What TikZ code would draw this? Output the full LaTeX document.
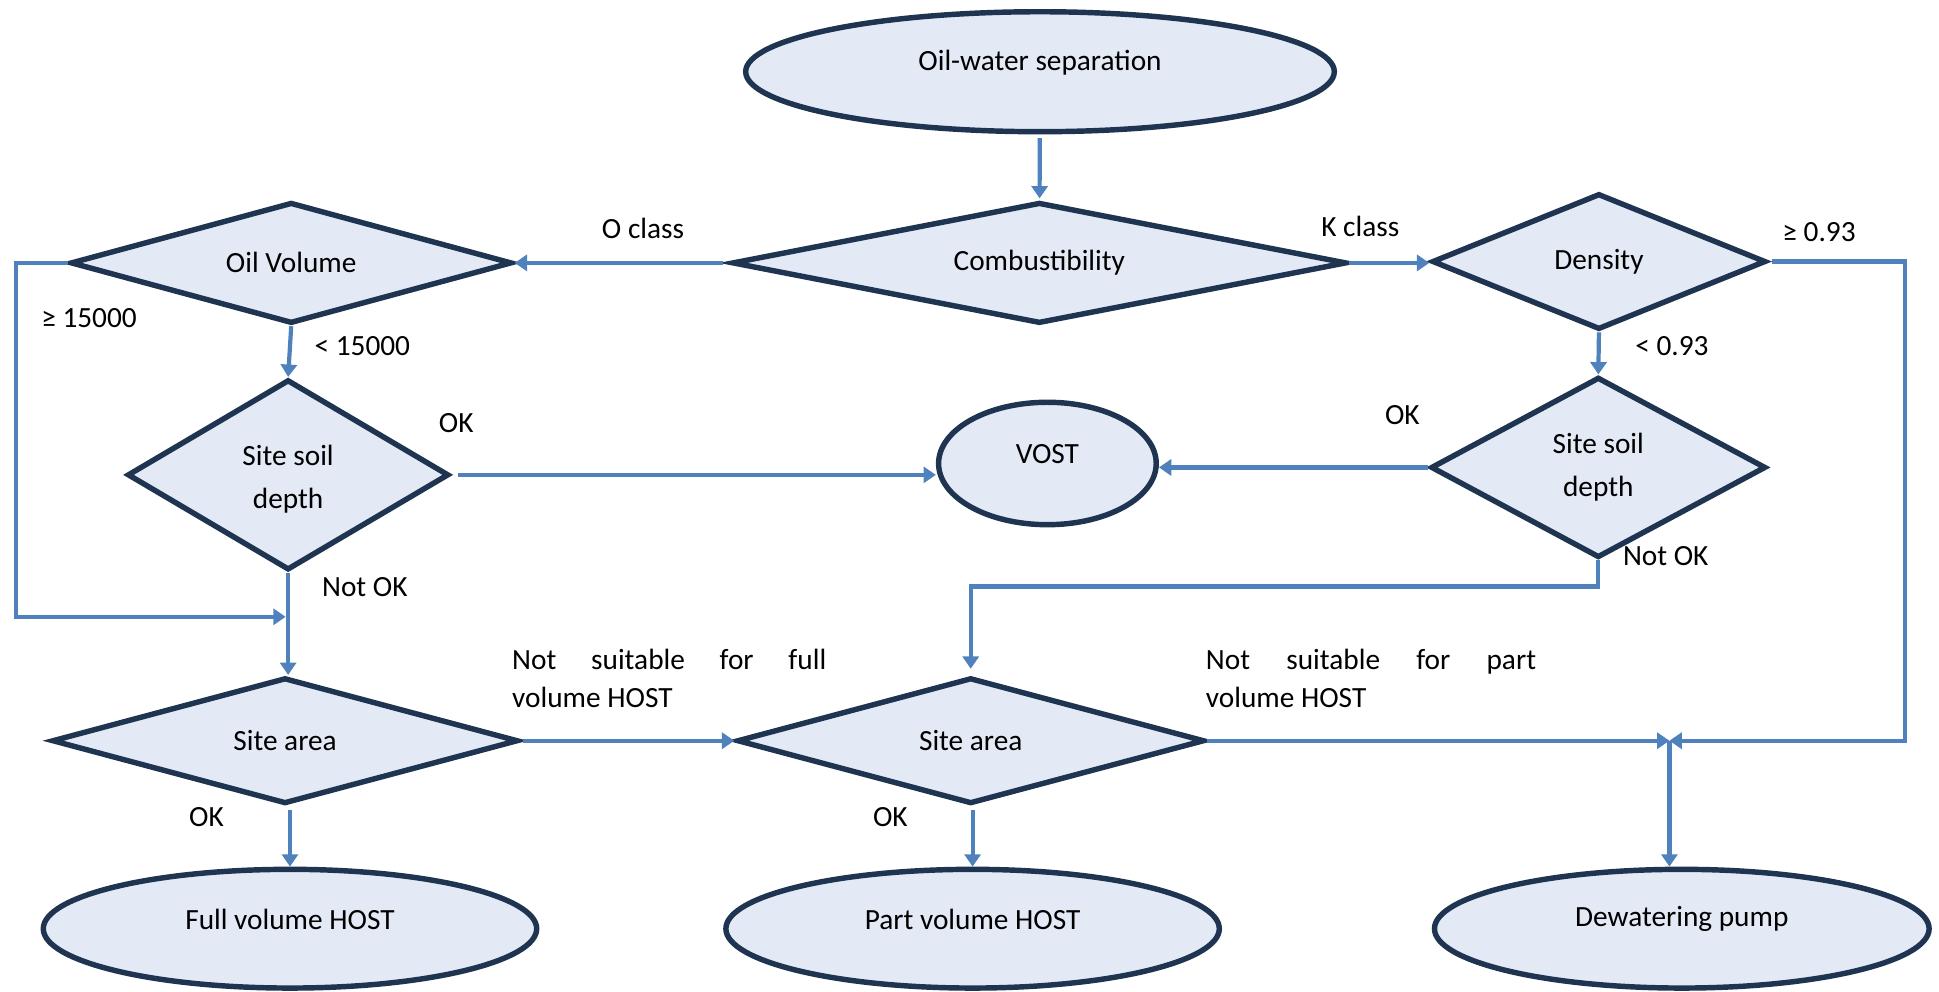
\documentclass[tikz,border=0pt]{standalone}
\usepackage{fontspec}
\setmainfont{Carlito}
\usetikzlibrary{shapes.geometric,arrows.meta}
\definecolor{fillc}{HTML}{E3EAF6}
\definecolor{edgec}{HTML}{1E3450}
\definecolor{linec}{HTML}{4F81BD}
\begin{document}
\begin{tikzpicture}[x=1pt,y=-1pt,
  every node/.style={font=\fontsize{23.7}{35}\selectfont},
  dec/.style={diamond, draw=edgec, fill=fillc, line width=4.4pt, inner sep=0pt, align=center},
  term/.style={ellipse, draw=edgec, fill=fillc, line width=4.4pt, inner sep=0pt},
  conn/.style={draw=linec, line width=3.4pt, -{Triangle[width=13pt,length=10pt]}},
  lbl/.style={inner sep=0pt, anchor=base},
  ttl/.style={inner sep=0pt, yshift=7.5pt}]
\useasboundingbox (0,0) rectangle (1568,802);

% nodes
\node[term, minimum width=476pt, minimum height=97pt,
      label={[ttl]center:Oil-water separation}] (ows) at (841,58) {};
\node[dec, shape aspect=5.07, minimum width=497pt, minimum height=98pt] (comb) at (840.5,212.6) {Combustibility};
\node[dec, shape aspect=3.64, minimum width=357pt, minimum height=98pt] (ov) at (235.5,212.6) {Oil Volume};
\node[dec, shape aspect=2.45, minimum width=270pt, minimum height=110pt] (den) at (1293,211.5) {Density};
\node[dec, shape aspect=1.69, minimum width=260pt, minimum height=154pt] (ssl) at (233,384) {\rule{0pt}{23pt}Site soil\\depth};
\node[term, minimum width=176pt, minimum height=99pt,
      label={[ttl]center:VOST}] (vost) at (847,374.8) {};
\node[dec, shape aspect=1.86, minimum width=271pt, minimum height=146pt] (ssr) at (1292.5,378) {Site soil\\depth};
\node[dec, shape aspect=3.7, minimum width=377pt, minimum height=102pt] (sal) at (230.5,599) {Site area};
\node[dec, shape aspect=3.7, minimum width=378pt, minimum height=102pt] (sam) at (785,599) {Site area};
\node[term, minimum width=399pt, minimum height=96pt,
      label={[ttl]center:Full volume HOST}] (fv) at (234.5,751) {};
\node[term, minimum width=399pt, minimum height=96pt,
      label={[ttl]center:Part volume HOST}] (pv) at (786.5,751) {};
\node[term, minimum width=400pt, minimum height=96pt,
      label={[ttl]center:Dewatering pump}] (dp) at (1360,751) {};

\coordinate (j1) at (231,498.8);
\coordinate (j2) at (1350,599);

% connectors
\draw[conn, shorten >=1pt, shorten <=3pt] (ows) -- (comb);
\draw[conn, shorten <=5pt] (comb.west) -- (ov.east);
\draw[conn] (comb.east) -- (comb.east -| den.west);
\draw[conn] (ov.south) -- (ssl.north);
\draw[conn] (ov.west) -- ++(-42,0) |- (j1);
\draw[conn] (ssl.south) -- (ssl.south |- sal.north);
\draw[conn, shorten <=5pt] (ssl.east) -- (ssl.east -| vost.west);
\draw[conn] (ssr.west) -- (ssr.west -| vost.east);
\draw[conn] (den.south) -- (ssr.north);
\draw[conn, shorten >=5pt] (ssr.south) -- ++(0,21) -| (sam.north);
\draw[conn, shorten <=2pt] (sal.east) -- (sam.west);
\draw[conn] (sam.east) -- (j2);
\draw[conn, shorten <=3pt] (den.east) -- ++(110,0) |- (j2);
\draw[conn] (j2) -- (j2 |- dp.north);
\draw[conn, shorten <=3pt] (fv.north |- sal.south) -- (fv.north);
\draw[conn, shorten <=3pt] (pv.north |- sam.south) -- (pv.north);

% labels
\node[lbl] (lo) at (520,192.5) {O class};
\node[lbl] (lk) at (1100,191.5) {K class};
\node[lbl] (lge) at (1471,195.5) {≥ 0.93};
\node[lbl] (lg1) at (72,264.5) {≥ 15000};
\node[lbl] (ll1) at (293,287.5) {< 15000};
\node[lbl] (ll2) at (1352,287.5) {< 0.93};
\node[lbl] (ok1) at (369,349.5) {OK};
\node[lbl] (ok2) at (1134,343.5) {OK};
\node[lbl] (no1) at (295,482.5) {Not OK};
\node[lbl] (no2) at (1347,457.5) {Not OK};
\node[lbl] (ok3) at (167,668.5) {OK};
\node[lbl] (ok4) at (720,668.5) {OK};
\node[inner sep=0pt, anchor=north west, align=left, font=\fontsize{23.7}{31}\selectfont]
  (nsf) at (414,524.6) {\makebox[254pt][s]{Not suitable for full}\\volume HOST};
\node[inner sep=0pt, anchor=north west, align=left, font=\fontsize{23.7}{31}\selectfont]
  (nsp) at (975,524.6) {\makebox[267pt][s]{Not suitable for part}\\volume HOST};
\end{tikzpicture}
\end{document}
